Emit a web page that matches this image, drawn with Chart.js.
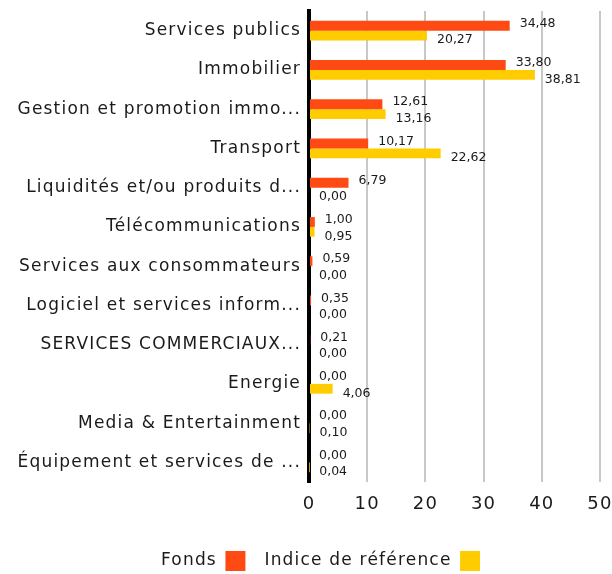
<!DOCTYPE html>
<html>
<head>
<meta charset="utf-8">
<script src="https://cdn.jsdelivr.net/npm/chart.js@4/dist/chart.umd.min.js"></script>
<style>
html,body{margin:0;padding:0;background:#fff;}
#wrap{width:612px;height:574px;position:relative;}
</style>
</head>
<body>
<div id="wrap"><canvas id="c" width="612" height="574"></canvas></div>
<script>
const categories = [
  "Services publics",
  "Immobilier",
  "Gestion et promotion immo...",
  "Transport",
  "Liquidités et/ou produits d...",
  "Télécommunications",
  "Services aux consommateurs",
  "Logiciel et services inform...",
  "SERVICES COMMERCIAUX...",
  "Energie",
  "Media & Entertainment",
  "Équipement et services de ..."
];
const fondsValues  = [34.48, 33.80, 12.61, 10.17, 6.79, 1.00, 0.59, 0.35, 0.21, 0.00, 0.00, 0.00];
const indiceValues = [20.27, 38.81, 13.16, 22.62, 0.00, 0.95, 0.00, 0.00, 0.00, 4.06, 0.10, 0.04];
const seriesNames = ["Fonds", "Indice de référence"];
const xTicks = [0, 10, 20, 30, 40, 50];

const FONT = "'DejaVu Sans', 'Noto Sans', sans-serif";
const ORANGE = "#FF4A14";
const YELLOW = "#FFCC00";
const SPACING = "1.2px";

const spacingPlugin = {
  id: 'spacing',
  beforeLayout(chart) { chart.ctx.letterSpacing = SPACING; },
  beforeDraw(chart) { chart.ctx.letterSpacing = SPACING; },
  afterLayout(chart) {
    const lg = chart.legend;
    if (lg) { lg.left += 12; lg.right += 12; }
  }
};

const valueLabels = {
  id: 'valueLabels',
  afterDatasetsDraw(chart) {
    const ctx = chart.ctx;
    ctx.save();
    ctx.letterSpacing = "0px";
    ctx.font = "12.5px " + FONT;
    ctx.fillStyle = "#1a1a1a";
    ctx.textBaseline = "middle";
    ctx.textAlign = "left";
    chart.data.datasets.forEach((ds, di) => {
      const meta = chart.getDatasetMeta(di);
      meta.data.forEach((bar, i) => {
        const v = ds.data[i];
        const txt = v.toFixed(2).replace('.', ',');
        const dy = di === 0 ? -2 : 4.5;
        ctx.fillText(txt, bar.x + 10, bar.y + dy);
      });
    });
    ctx.restore();
  }
};

new Chart(document.getElementById('c'), {
  type: 'bar',
  data: {
    labels: categories,
    datasets: [
      { label: seriesNames[0], data: fondsValues, backgroundColor: ORANGE, categoryPercentage: 0.5, barPercentage: 1.0 },
      { label: seriesNames[1], data: indiceValues, backgroundColor: YELLOW, categoryPercentage: 0.5, barPercentage: 1.0 }
    ]
  },
  options: {
    indexAxis: 'y',
    responsive: false,
    animation: false,
    layout: { padding: { left: 5, right: 0, top: 11, bottom: -7 } },
    scales: {
      x: {
        min: xTicks[0], max: xTicks[xTicks.length - 1],
        afterBuildTicks(scale) { scale.ticks = xTicks.map(v => ({ value: v })); },
        afterFit(scale) { scale.height = 50; scale.paddingRight = 12; scale.paddingLeft = 0; },
        grid: { color: "#c8c8c8", lineWidth: 2, drawTicks: false },
        border: { display: false },
        ticks: { color: "#1a1a1a", font: { family: FONT, size: 18 }, padding: 12 }
      },
      y: {
        afterFit(scale) { scale.width = 304; scale.paddingTop = 0; scale.paddingBottom = 0; },
        grid: { display: false, drawTicks: false },
        border: { display: true, color: "#000", width: 4 },
        ticks: { color: "#1a1a1a", font: { family: FONT, size: 17 }, padding: 8, autoSkip: false }
      }
    },
    plugins: {
      legend: {
        position: 'bottom',
        rtl: true,
        reverse: true,
        labels: {
          color: "#1a1a1a",
          font: { family: FONT, size: 17 },
          boxWidth: 20, boxHeight: 20, padding: 19
        }
      },
      tooltip: { enabled: false }
    }
  },
  plugins: [spacingPlugin, valueLabels]
});
</script>
</body>
</html>
